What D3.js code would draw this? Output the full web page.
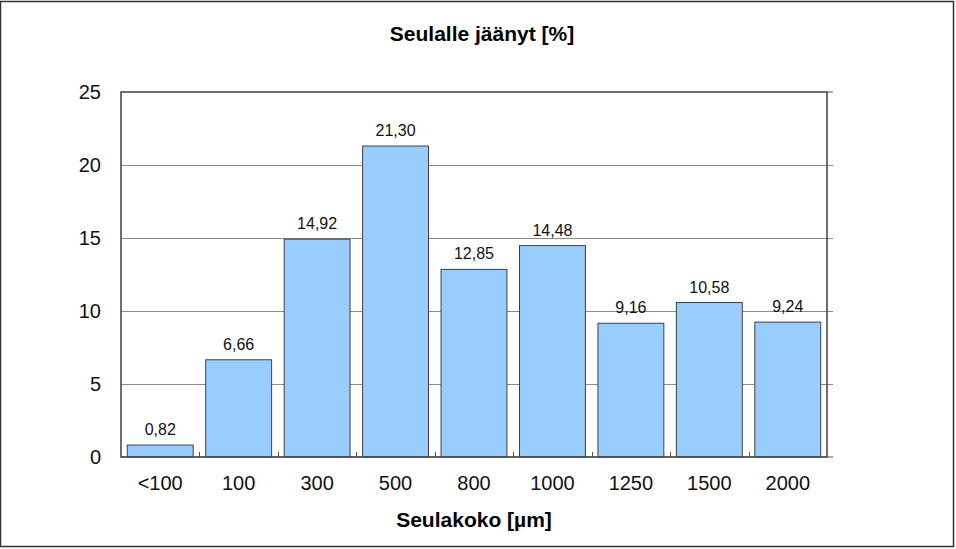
<!DOCTYPE html>
<html>
<head>
<meta charset="utf-8">
<script src="https://cdn.jsdelivr.net/npm/d3@7"></script>
<style>
  body { margin: 0; background: #fff; }
  svg { display: block; font-family: Arial, "Liberation Sans", sans-serif; }
</style>
</head>
<body>
<div id="chart"></div>
<script>
// data
const categories = ["<100", "100", "300", "500", "800", "1000", "1250", "1500", "2000"];
const values = [0.82, 6.66, 14.92, 21.30, 12.85, 14.48, 9.16, 10.58, 9.24];
const yTicks = [0, 5, 10, 15, 20, 25];
const title = "Seulalle jäänyt [%]";
const xTitle = "Seulakoko [µm]";

const W = 956, H = 549;
const margin = { top: 92, right: 129, bottom: 92, left: 121 },
  w = W - margin.left - margin.right,
  h = H - margin.top - margin.bottom;

const svg = d3.select("#chart")
  .append("svg")
  .attr("width", W)
  .attr("height", H);

// outer frame
svg.append("rect")
  .attr("x", 0.5).attr("y", 1.5)
  .attr("width", 953).attr("height", 545)
  .attr("fill", "#fff")
  .attr("stroke", "#333")
  .attr("stroke-width", 1.5);

const g = svg.append("g")
  .attr("transform", `translate(${margin.left}, ${margin.top})`);

const x = d3.scaleBand()
  .domain(categories)
  .range([0, w])
  .paddingInner(0.16)
  .paddingOuter(0.08);

const y = d3.scaleLinear()
  .domain([0, 25])
  .range([h, 0]);

// gridlines (extend past the right edge like outward ticks)
g.append("g")
  .selectAll("line")
  .data(yTicks.filter(d => d > 0 && d < 25))
  .join("line")
  .attr("x1", 0)
  .attr("x2", w + 6)
  .attr("y1", d => Math.round(y(d)) + 0.5)
  .attr("y2", d => Math.round(y(d)) + 0.5)
  .attr("stroke", "#8c8c8c")
  .attr("stroke-width", 1);

// bars
g.append("g")
  .selectAll("rect")
  .data(values)
  .join("rect")
  .attr("x", (d, i) => x(categories[i]))
  .attr("y", d => y(d))
  .attr("width", x.bandwidth())
  .attr("height", d => h - y(d))
  .attr("fill", "#99ccff")
  .attr("stroke", "#404040")
  .attr("stroke-width", 1);

// value labels
g.append("g")
  .selectAll("text")
  .data(values)
  .join("text")
  .attr("x", (d, i) => x(categories[i]) + x.bandwidth() / 2)
  .attr("y", d => y(d) - 10)
  .attr("text-anchor", "middle")
  .style("font-size", "16px")
  .attr("fill", "#111")
  .text(d => d.toFixed(2).replace(".", ","));

// small category separator ticks on the x axis
const step = x.step();
g.append("g")
  .selectAll("line")
  .data(d3.range(1, categories.length))
  .join("line")
  .attr("x1", i => Math.round(i * step) + 0.5)
  .attr("x2", i => Math.round(i * step) + 0.5)
  .attr("y1", h)
  .attr("y2", h - 5)
  .attr("stroke", "#555");

// plot frame
g.append("rect")
  .attr("x", 0).attr("y", 0)
  .attr("width", w).attr("height", h)
  .attr("fill", "none")
  .attr("stroke", "#404040")
  .attr("stroke-width", 1.5);

// x axis line extends to the right tick
g.append("line")
  .attr("x1", 0).attr("x2", w + 6)
  .attr("y1", h).attr("y2", h)
  .attr("stroke", "#555");
g.append("line")
  .attr("x1", w).attr("x2", w + 6)
  .attr("y1", 0).attr("y2", 0)
  .attr("stroke", "#555");

// y tick labels
g.append("g")
  .selectAll("text")
  .data(yTicks)
  .join("text")
  .attr("x", -20)
  .attr("y", d => y(d))
  .attr("dy", "0.36em")
  .attr("text-anchor", "end")
  .style("font-size", "20px")
  .attr("fill", "#111")
  .text(d => d);

// x tick labels
g.append("g")
  .selectAll("text")
  .data(categories)
  .join("text")
  .attr("x", d => x(d) + x.bandwidth() / 2)
  .attr("y", h + 33)
  .attr("text-anchor", "middle")
  .style("font-size", "20px")
  .attr("fill", "#111")
  .text(d => d);

// chart title
svg.append("text")
  .attr("x", 482)
  .attr("y", 41)
  .attr("text-anchor", "middle")
  .style("font-size", "21px")
  .style("font-weight", "bold")
  .text(title);

// x axis title
svg.append("text")
  .attr("x", margin.left + w / 2)
  .attr("y", 527)
  .attr("text-anchor", "middle")
  .style("font-size", "21px")
  .style("font-weight", "bold")
  .text(xTitle);
</script>
</body>
</html>
